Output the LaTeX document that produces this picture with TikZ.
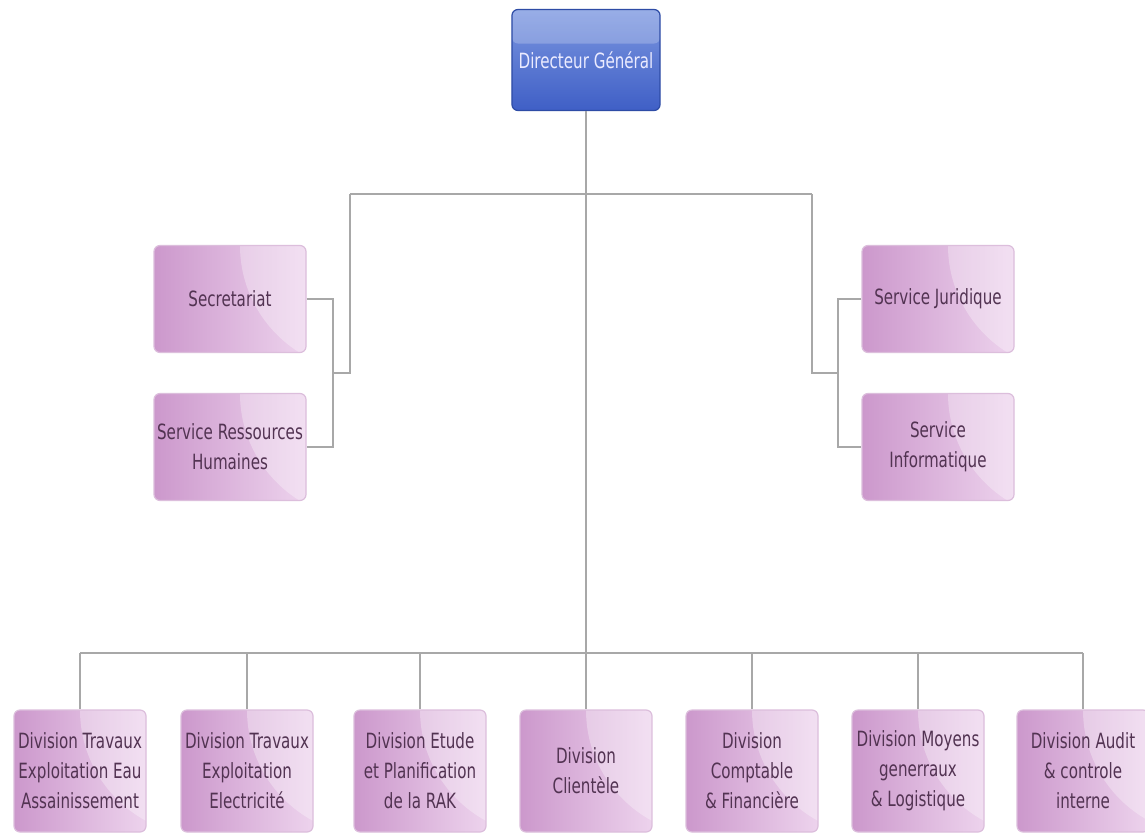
\documentclass[tikz,border=0pt]{standalone}
\usepackage{fontspec}
\setmainfont{DejaVu Sans}[FakeStretch=0.72]
\definecolor{pinkL}{HTML}{CC98CC}
\definecolor{pinkR}{HTML}{EDD3ED}
\definecolor{pinkB}{HTML}{DCBEDC}
\definecolor{pinkT}{HTML}{523352}
\definecolor{blueT}{HTML}{7C97E0}
\definecolor{blueB}{HTML}{3F5FC6}
\definecolor{blueD}{HTML}{2E4CA6}
\definecolor{connC}{HTML}{A8A8A8}
\tikzset{
  pinkbox/.style={rectangle, rounded corners=3pt, draw=pinkB, line width=0.6pt,
    left color=pinkL, right color=pinkR, text=pinkT, align=center,
    font=\fontsize{10.5}{15}\selectfont, inner sep=1pt,
    path picture={\fill[white,opacity=0.3] ([xshift=30pt]path picture bounding box.north east) circle (63pt);}},
  sidebox/.style={pinkbox, minimum width=76pt, minimum height=53.5pt},
  divbox/.style={pinkbox, minimum width=66pt, minimum height=61pt},
  topbox/.style={rectangle, rounded corners=3pt, draw=blueD, line width=0.6pt,
    top color=blueT, bottom color=blueB, text=white!92!blue, align=center,
    minimum width=73.5pt, minimum height=50.5pt,
    font=\fontsize{10.5}{15}\selectfont,
    path picture={\fill[white,opacity=0.22] (path picture bounding box.north west) rectangle ([yshift=-17pt]path picture bounding box.north east);}},
  conn/.style={draw=connC, line width=0.8pt}
}
\begin{document}
\begin{tikzpicture}[x=0.5pt,y=-0.5pt]
\useasboundingbox (0,0) rectangle (1145,835);
\fill[white] (0,0) rectangle (1145,835);
% nodes
\node[topbox] (dg) at (586,60) {Directeur Général};
\node[sidebox] (sec) at (230,299) {Secretariat};
\node[sidebox] (rh) at (230,447) {Service Ressources\\Humaines};
\node[sidebox] (jur) at (938,299) {Service Juridique};
\node[sidebox] (inf) at (938,447) {Service\\Informatique};
\node[divbox] (d1) at (80,771) {Division Travaux\\Exploitation Eau\\Assainissement};
\node[divbox] (d2) at (247,771) {Division Travaux\\Exploitation\\Electricité};
\node[divbox] (d3) at (420,771) {Division Etude\\et Planification\\de la RAK};
\node[divbox] (d4) at (586,771) {Division\\Clientèle};
\node[divbox] (d5) at (752,771) {Division\\Comptable\\\& Financière};
\node[divbox] (d6) at (918,771) {Division Moyens\\generraux\\\& Logistique};
\node[divbox] (d7) at (1083,771) {Division Audit\\\& controle\\interne};
% junction coordinates
\coordinate (tl) at (350,194);
\coordinate (tr) at (812,194);
\coordinate (lc) at (350,373);
\coordinate (lj) at (333,373);
\coordinate (rc) at (812,373);
\coordinate (rj) at (838,373);
\coordinate (bus) at (586,653);
% connectors
\draw[conn] (dg.south) -- (d4.north);
\draw[conn] (tl) -- (tr);
\draw[conn] (tl) -- (lc) -- (lj);
\draw[conn] (tr) -- (rc) -- (rj);
\draw[conn] (sec.east) -- (sec.east -| lj) -- (rh.east -| lj) -- (rh.east);
\draw[conn] (jur.west) -- (jur.west -| rj) -- (inf.west -| rj) -- (inf.west);
\draw[conn] (d1.north |- bus) -- (d7.north |- bus);
\foreach \n in {d1,d2,d3,d5,d6,d7}{
  \draw[conn] (\n.north |- bus) -- (\n.north);
}
\end{tikzpicture}
\end{document}
